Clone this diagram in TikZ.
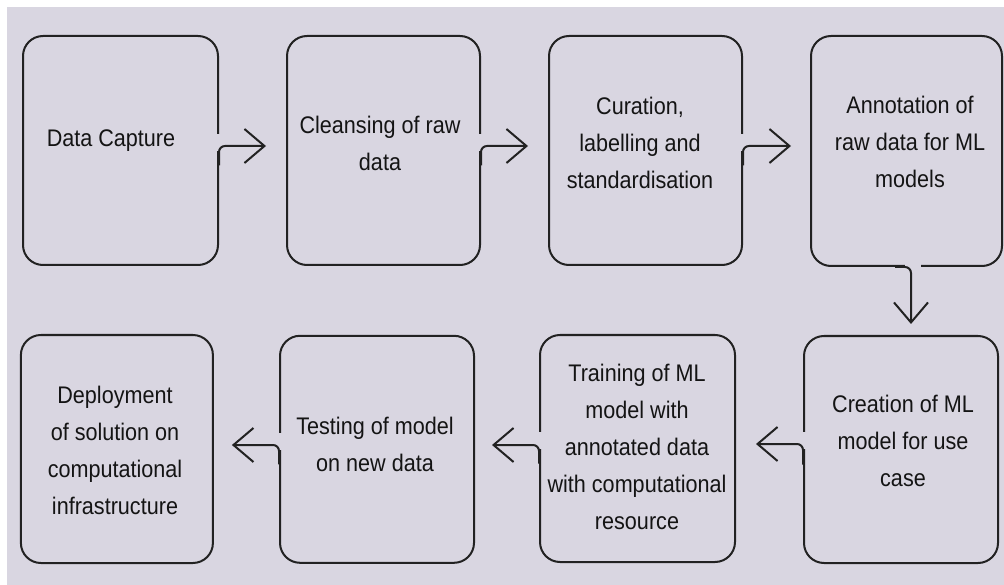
\documentclass[tikz,border=0pt]{standalone}
\usepackage{fontspec}
\setmainfont{Liberation Sans}[FakeStretch=0.9]
\usetikzlibrary{arrows.meta,calc}
\definecolor{bgc}{RGB}{217,214,225}
\definecolor{ink}{RGB}{34,34,34}
\definecolor{txt}{RGB}{20,20,20}
\tikzset{
  box/.style={draw=ink, line width=2pt, rounded corners=20pt, inner sep=0pt},
  lbl/.style={align=center, font=\fontsize{24}{37}\selectfont, text=txt, inner sep=0pt},
  gap/.style={draw=bgc, line width=5pt},
  conn/.style={draw=ink, line width=2pt, rounded corners=6pt, -{Straight Barb[length=20pt,width=34pt]}},
}
\begin{document}
\begin{tikzpicture}[x=1pt,y=-1pt]
\fill[white] (0,0) rectangle (1004,585);
\fill[bgc] (7,7) rectangle (1004,585);
\useasboundingbox (0,0) rectangle (1004,585);

% top row boxes
\node[box, minimum width=195pt, minimum height=229pt] (b1) at (120.5,150.5) {};
\node[box, minimum width=193pt, minimum height=229pt] (b2) at (383.5,150.5) {};
\node[box, minimum width=193pt, minimum height=229pt] (b3) at (645.5,150.5) {};
\node[box, minimum width=191pt, minimum height=230pt] (b4) at (906.5,151) {};
% bottom row boxes
\node[box, minimum width=194pt, minimum height=227pt] (c4) at (901,449.5) {};
\node[box, minimum width=195pt, minimum height=227pt] (c3) at (637.5,448.5) {};
\node[box, minimum width=194pt, minimum height=227pt] (c2) at (377,449.3) {};
\node[box, minimum width=192pt, minimum height=228pt] (c1) at (116.9,449) {};

% labels
\node[lbl] (t1) at (111,141) {Data Capture};
\node[lbl] (t2) at (380,143.5) {Cleansing of raw\\data};
\node[lbl] (t3) at (640,143) {Curation,\\labelling and\\standardisation};
\node[lbl] (t4) at (910,142) {Annotation of\\raw data for ML\\models};
\node[lbl] (u4) at (903,441) {Creation of ML\\model for use\\case};
\node[lbl] (u3) at (637,447) {Training of ML\\model with\\annotated data\\with computational\\resource};
\node[lbl] (u2) at (375,444.5) {Testing of model\\on new data};
\node[lbl] (u1) at (115,450) {Deployment\\of solution on\\computational\\infrastructure};

% gaps in outlines where connectors leave
\draw[gap] ($(b1.north east)+(0,99)$) -- ($(b1.north east)+(0,116)$);
\draw[gap] ($(b2.north east)+(0,99)$) -- ($(b2.north east)+(0,116)$);
\draw[gap] ($(b3.north east)+(0,99)$) -- ($(b3.north east)+(0,116)$);
\draw[gap] ($(b4.south)+(-1.5,0)$) -- ($(b4.south)+(14.5,0)$);
\draw[gap] ($(c4.north west)+(0,97)$) -- ($(c4.north west)+(0,114)$);
\draw[gap] ($(c3.north west)+(0,98)$) -- ($(c3.north west)+(0,115)$);
\draw[gap] ($(c2.north west)+(0,98)$) -- ($(c2.north west)+(0,115)$);

% connectors
\draw[conn] ($(b1.east)+(0,15)$) |- ($(b2.west)+(-20,-4.5)$);
\draw[conn] ($(b2.east)+(0,15)$) |- ($(b3.west)+(-20,-4.5)$);
\draw[conn] ($(b3.east)+(0,15)$) |- ($(b4.west)+(-19,-5)$);
\draw[conn] ($(b4.south)+(-11.5,0)$) -| ($(c4.north)+(10,-11)$);
\draw[conn] ($(c4.west)+(0,15)$) |- ($(c3.east)+(20,-4.5)$);
\draw[conn] ($(c3.west)+(0,15)$) |- ($(c2.east)+(17,-4.3)$);
\draw[conn] ($(c2.west)+(0,15)$) |- ($(c1.east)+(18,-4)$);
\end{tikzpicture}
\end{document}
